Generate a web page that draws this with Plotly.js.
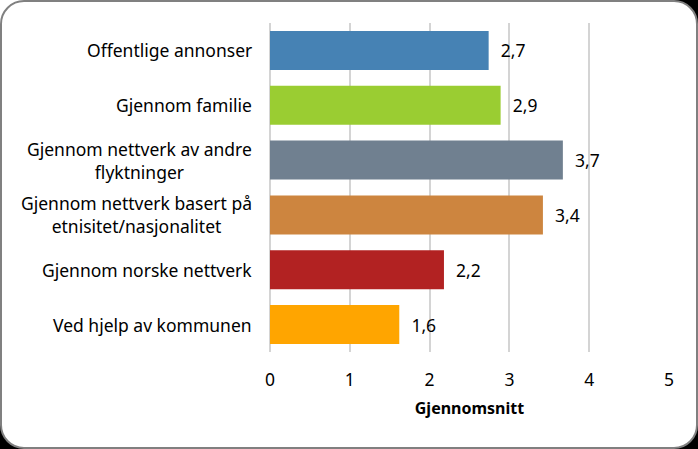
<!DOCTYPE html>
<html>
<head>
<meta charset="utf-8">
<script src="https://cdn.plot.ly/plotly-3.0.1.min.js"></script>
<style>
  html, body { margin:0; padding:0; background:#fff; }
  #page { position:relative; width:698px; height:449px; overflow:hidden; background:#000; }
  #tl { position:absolute; left:0; top:0; width:30px; height:30px; background:#fff; }
  #frame { position:absolute; left:0; top:0; width:698px; height:449px; box-sizing:border-box;
           border:2px solid #808080; border-radius:24px; background:#fff; }
  #chart { position:absolute; left:0; top:0; width:698px; height:449px; }
</style>
</head>
<body>
<div id="page">
  <div id="tl"></div>
  <div id="frame"></div>
  <div id="chart"></div>
</div>
<script>
const categories = [
  "Offentlige annonser",
  "Gjennom familie",
  "Gjennom nettverk av andre<br>flyktninger",
  "Gjennom nettverk basert på<br>etnisitet/nasjonalitet",
  "Gjennom norske nettverk",
  "Ved hjelp av kommunen"
];
const values = [2.74, 2.89, 3.67, 3.42, 2.18, 1.62];
const colors = ["#4682B4", "#9ACD32", "#708090", "#CD853F", "#B22222", "#FFA500"];
const xTicks = [0, 1, 2, 3, 4, 5];
const xTitle = "Gjennomsnitt";

const FONT = "Noto Sans, sans-serif";
const FS = 17.5;

const trace = {
  type: "bar",
  orientation: "h",
  y: categories,
  x: values,
  marker: { color: colors },
  texttemplate: "\u00a0\u00a0%{x:.1f}",
  textposition: "outside",
  textfont: { family: FONT, size: FS, color: "#000" },
  cliponaxis: false,
  hoverinfo: "none"
};

const annotations = categories.map(c => ({
  xref: "paper", yref: "y", x: 0, y: c,
  xanchor: "right", yanchor: "middle", xshift: -16,
  text: c, showarrow: false, align: "center",
  font: { family: FONT, size: FS, color: "#000" }
}));

const layout = {
  width: 698, height: 449,
  margin: { l: 270, r: 29, t: 23, b: 97 },
  paper_bgcolor: "rgba(0,0,0,0)",
  plot_bgcolor: "rgba(0,0,0,0)",
  separators: ",.",
  bargap: 0.29,
  showlegend: false,
  font: { family: FONT, size: FS, color: "#000" },
  xaxis: {
    range: [0, 5],
    tickvals: xTicks,
    ticktext: xTicks.map(String),
    showgrid: true, gridcolor: "#d4d4d4", gridwidth: 2,
    zeroline: true, zerolinecolor: "#d4d4d4", zerolinewidth: 2,
    showline: false,
    ticks: "outside", ticklen: 12, tickcolor: "rgba(0,0,0,0)",
    tickfont: { family: FONT, size: FS, color: "#000" },
    title: { text: "<b>" + xTitle + "</b>", font: { family: FONT, size: 16, color: "#000" }, standoff: 12 },
    fixedrange: true
  },
  yaxis: {
    type: "category",
    autorange: "reversed",
    showticklabels: false,
    showgrid: false, zeroline: false, showline: false,
    fixedrange: true
  },
  annotations: annotations
};

Plotly.newPlot("chart", [trace], layout, { displayModeBar: false, staticPlot: true });
</script>
</body>
</html>
